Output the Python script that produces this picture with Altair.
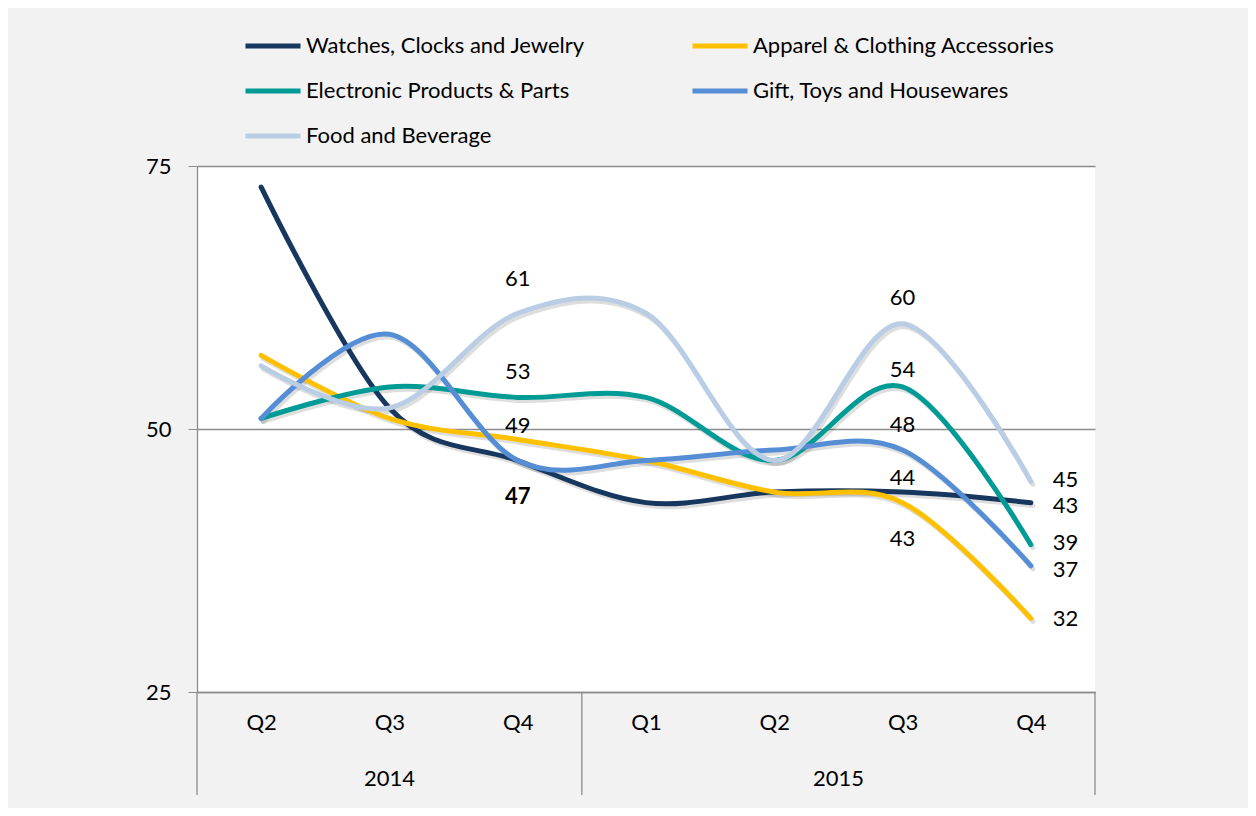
import altair as alt
import pandas as pd

# ---------------- data ----------------
quarters = ["Q2", "Q3", "Q4", "Q1", "Q2", "Q3", "Q4"]
years = ["2014", "2014", "2014", "2015", "2015", "2015", "2015"]
series_names = [
    "Watches, Clocks and Jewelry",
    "Apparel & Clothing Accessories",
    "Electronic Products & Parts",
    "Gift, Toys and Housewares",
    "Food and Beverage",
]
watches = [73, 52, 47, 43, 44, 44, 43]
apparel = [57, 51, 49, 47, 44, 43, 32]
electronics = [51, 54, 53, 53, 47, 54, 39]
gift = [51, 59, 47, 47, 48, 48, 37]
food = [56, 52, 61, 61, 47, 60, 45]
colors = ["#17375e", "#ffc000", "#009b95", "#558ed5", "#b9cde5"]
y_ticks = [25, 50, 75]

FONT = "Lato"
FS = 22

keys = [f"{y} {q}" for y, q in zip(years, quarters)]
values = [watches, apparel, electronics, gift, food]
rows = []
for name, vals in zip(series_names, values):
    for k, v in zip(keys, vals):
        rows.append({"series": name, "key": k, "value": v})
df = pd.DataFrame(rows)

# legend is filled column by column: reorder so that it reads row by row
n_cols = 2
n_rows = -(-len(series_names) // n_cols)
legend_order = []
for c in range(n_cols):
    for r in range(n_rows):
        i = r * n_cols + c
        if i < len(series_names):
            legend_order.append(i)
legend_domain = [series_names[i] for i in legend_order]
legend_range = [colors[i] for i in legend_order]

# labels shown on the chart: (series, key, dx, dy, align, bold)
label_spec = [
    ("Food and Beverage", "2014 Q4", 0, -34, "center", False),
    ("Electronic Products & Parts", "2014 Q4", 0, -25, "center", False),
    ("Apparel & Clothing Accessories", "2014 Q4", 0, -14, "center", False),
    ("Watches, Clocks and Jewelry", "2014 Q4", 0, 36, "center", True),
    ("Food and Beverage", "2015 Q3", 0, -26, "center", False),
    ("Electronic Products & Parts", "2015 Q3", 0, -17, "center", False),
    ("Gift, Toys and Housewares", "2015 Q3", 0, -25, "center", False),
    ("Watches, Clocks and Jewelry", "2015 Q3", 0, -14, "center", False),
    ("Apparel & Clothing Accessories", "2015 Q3", 0, 36, "center", False),
    ("Food and Beverage", "2015 Q4", 22, -2, "left", False),
    ("Watches, Clocks and Jewelry", "2015 Q4", 22, 3, "left", False),
    ("Electronic Products & Parts", "2015 Q4", 22, -2, "left", False),
    ("Gift, Toys and Housewares", "2015 Q4", 22, 4, "left", False),
    ("Apparel & Clothing Accessories", "2015 Q4", 22, 1, "left", False),
]

W, H = 898, 526
GREY = "#8c8c8c"

x_enc = alt.X(
    "key:N",
    sort=keys,
    scale=alt.Scale(type="point", padding=0.5),
    axis=alt.Axis(
        title=None,
        labelExpr="split(datum.value, ' ')[1]",
        ticks=False,
        labelPadding=20,
        labelFontSize=FS,
        labelFont=FONT,
        labelColor="#000000",
        domainColor=GREY,
        domainWidth=1.3,
        labelAngle=0,
    ),
)
y_scale = alt.Scale(domain=[25, 75], nice=False, zero=False)
y_enc = alt.Y(
    "value:Q",
    scale=y_scale,
    axis=alt.Axis(
        title=None,
        values=y_ticks,
        grid=True,
        gridColor=GREY,
        gridWidth=1.3,
        tickSize=9,
        tickColor=GREY,
        domainColor=GREY,
        domainWidth=1.3,
        labelPadding=17,
        labelFontSize=FS,
        labelFont=FONT,
        labelColor="#000000",
    ),
)
color_enc = alt.Color(
    "series:N",
    scale=alt.Scale(domain=legend_domain, range=legend_range),
    legend=alt.Legend(
        title=None,
        orient="none",
        legendX=46,
        legendY=-150,
        columns=n_cols,
        columnPadding=97,
        rowPadding=4,
        symbolType="stroke",
        symbolSize=3025,
        symbolStrokeWidth=5,
        labelFontSize=FS,
        labelFont=FONT,
        labelColor="#000000",
        labelOffset=3,
        labelLimit=0,
        padding=0,
    ),
)

base = alt.Chart(df)

shadow = base.mark_line(
    interpolate="cardinal", strokeWidth=5, opacity=0.13, xOffset=2, yOffset=3,
    strokeCap="round",
).encode(x=x_enc, y=y_enc, detail="series:N", color=alt.value("#000000"))

lines = base.mark_line(
    interpolate="cardinal", strokeWidth=5, strokeCap="round"
).encode(x=x_enc, y=y_enc, color=color_enc)

label_layers = []
for name, key, dx, dy, align, bold in label_spec:
    sub = df[(df.series == name) & (df.key == key)]
    label_layers.append(
        alt.Chart(sub).mark_text(
            dx=dx, dy=dy, align=align, baseline="middle", fontSize=FS,
            font=FONT, color="#000000", fontWeight="bold" if bold else "normal",
        ).encode(x=alt.X("key:N", sort=keys), y=alt.Y("value:Q"), text="value:Q")
    )

# year grouping below the axis
year_list = []
for y in years:
    if y not in year_list:
        year_list.append(y)
year_rows = []
bounds = [0]
pos = 0
for y in year_list:
    n = years.count(y)
    year_rows.append({"year": y, "mid": pos + n / 2})
    pos += n
    bounds.append(pos)
year_df = pd.DataFrame(year_rows)
bound_df = pd.DataFrame({"b": bounds})
xq = alt.Scale(domain=[0, len(keys)], nice=False, zero=False)

year_text = alt.Chart(year_df).mark_text(
    fontSize=FS, font=FONT, color="#000000", baseline="middle"
).encode(
    x=alt.X("mid:Q", scale=xq, axis=None),
    y=alt.value(H + 87),
    text="year:N",
)
year_rules = alt.Chart(bound_df).mark_rule(color=GREY, strokeWidth=1.3).encode(
    x=alt.X("b:Q", scale=xq, axis=None),
    y=alt.value(H),
    y2=alt.value(H + 103),
)

main = alt.layer(shadow, lines, *label_layers)
chart = alt.layer(main, year_rules, year_text).resolve_scale(x="independent").properties(
    width=W,
    height=H,
    autosize=alt.AutoSizeParams(type="none"),
    padding={"left": 189, "top": 158, "right": 153, "bottom": 116},
    background="#f2f2f2",
).configure_view(fill="#ffffff", strokeWidth=0)

chart.save("out.html", embed_options={"renderer": "svg", "actions": False})
